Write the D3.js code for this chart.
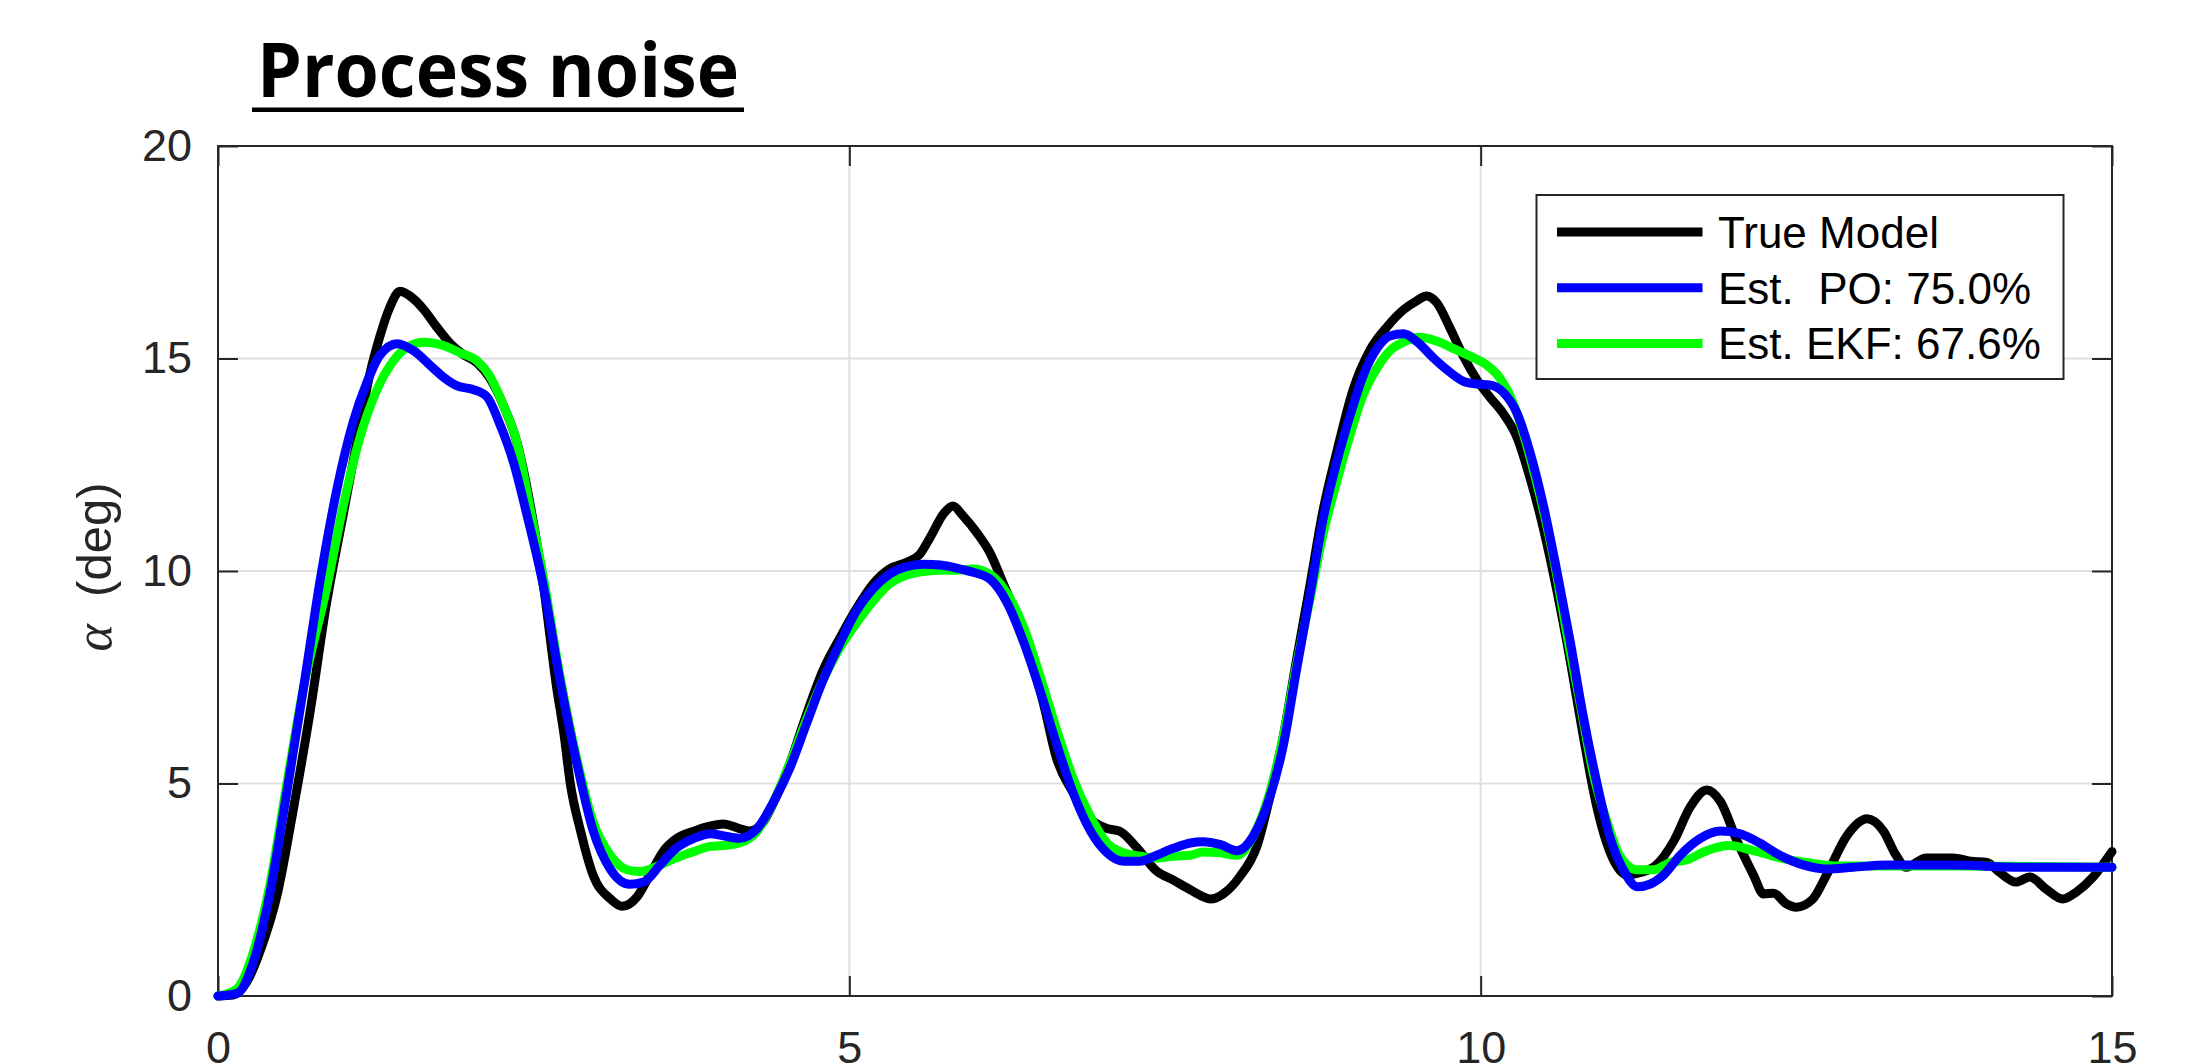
<!DOCTYPE html>
<html>
<head>
<meta charset="utf-8">
<script src="https://cdn.jsdelivr.net/npm/d3@7"></script>
<style>
    body { margin: 0; background: #fff; }
    text { white-space: pre; }
</style>
</head>
<body>
<div id="chart"></div>
<script>
// time (s) / alpha (deg)
var trueT = [0, 0.12, 0.23, 0.33, 0.47, 0.6, 0.73, 0.86, 0.99, 1.12, 1.2, 1.28, 1.36, 1.44, 1.55, 1.63, 1.73, 1.84, 1.94, 2.05,
    2.15, 2.26, 2.37, 2.47, 2.58, 2.68, 2.74, 2.79, 2.87, 2.97, 3.11, 3.2, 3.32, 3.42, 3.53, 3.63, 3.77, 3.9, 4.0, 4.13,
    4.21, 4.32, 4.42, 4.53, 4.66, 4.79, 4.93, 5.06, 5.19, 5.32, 5.45, 5.56, 5.64, 5.75, 5.82, 5.9, 6.01, 6.11, 6.22, 6.33,
    6.43, 6.54, 6.64, 6.77, 6.91, 7.04, 7.14, 7.28, 7.43, 7.57, 7.7, 7.8, 7.86, 7.96, 8.09, 8.23, 8.33, 8.44, 8.54, 8.65,
    8.75, 8.86, 8.99, 9.12, 9.26, 9.39, 9.49, 9.57, 9.65, 9.76, 9.86, 9.97, 10.07, 10.18, 10.29, 10.39, 10.5, 10.6, 10.71, 10.81,
    10.92, 11.02, 11.16, 11.26, 11.39, 11.53, 11.66, 11.79, 11.9, 12.03, 12.16, 12.24, 12.32, 12.42, 12.5, 12.63, 12.74, 12.9, 13.06, 13.19,
    13.29, 13.37, 13.53, 13.74, 13.88, 14.01, 14.11, 14.24, 14.35, 14.48, 14.61, 14.72, 14.85, 15.0];
var trueV = [0, 0.02, 0.34, 1.03, 2.4, 4.45, 6.7, 9.25, 11.3, 13.36, 14.6, 15.5, 16.2, 16.58, 16.4, 16.15, 15.75, 15.35, 15.1, 14.9,
    14.55, 13.9, 13.0, 11.6, 9.6, 7.3, 6.16, 5.0, 3.9, 2.85, 2.28, 2.11, 2.34, 2.85, 3.42, 3.7, 3.88, 4.0, 4.05, 3.94,
    3.88, 4.1, 4.68, 5.48, 6.62, 7.65, 8.45, 9.13, 9.7, 10.05, 10.2, 10.4, 10.79, 11.36, 11.53, 11.3, 10.9, 10.45, 9.7, 8.9,
    8.0, 6.85, 5.6, 4.8, 4.17, 3.94, 3.88, 3.48, 2.95, 2.72, 2.5, 2.34, 2.28, 2.4, 2.8, 3.54, 4.68, 6.16, 7.88, 9.7,
    11.4, 12.8, 14.27, 15.18, 15.75, 16.15, 16.35, 16.47, 16.32, 15.7, 15.07, 14.5, 14.1, 13.7, 13.13, 12.2, 10.96, 9.59, 7.88, 6.16,
    4.45, 3.42, 2.85, 2.9, 3.08, 3.65, 4.45, 4.85, 4.57, 3.65, 2.85, 2.4, 2.42, 2.17, 2.09, 2.28, 2.85, 3.77, 4.17, 3.88,
    3.31, 3.03, 3.25, 3.25, 3.17, 3.14, 2.91, 2.68, 2.8, 2.51, 2.28, 2.45, 2.8, 3.4];

var poT = [0, 0.15, 0.28, 0.41, 0.54, 0.68, 0.81, 0.94, 1.07, 1.18, 1.28, 1.42, 1.55, 1.68, 1.79, 1.89, 2.02, 2.13, 2.23, 2.34,
    2.44, 2.58, 2.71, 2.84, 2.97, 3.11, 3.26, 3.37, 3.5, 3.63, 3.77, 3.9, 4.0, 4.13, 4.27, 4.4, 4.53, 4.66, 4.79, 4.93,
    5.06, 5.19, 5.32, 5.45, 5.59, 5.72, 5.85, 5.98, 6.11, 6.25, 6.38, 6.51, 6.64, 6.77, 6.91, 7.04, 7.17, 7.3, 7.43, 7.57,
    7.7, 7.8, 7.94, 8.07, 8.2, 8.33, 8.44, 8.54, 8.65, 8.75, 8.86, 8.97, 9.07, 9.18, 9.28, 9.39, 9.49, 9.63, 9.76, 9.86,
    9.97, 10.07, 10.18, 10.29, 10.39, 10.5, 10.6, 10.71, 10.81, 10.92, 11.02, 11.13, 11.24, 11.34, 11.45, 11.58, 11.74, 11.9, 12.05, 12.21,
    12.37, 12.56, 12.74, 12.95, 13.22, 13.74, 14.27, 15.0];
var poV = [0, 0.06, 0.8, 2.4, 4.7, 7.3, 9.8, 11.9, 13.5, 14.44, 15.07, 15.35, 15.18, 14.84, 14.55, 14.36, 14.27, 14.1, 13.47, 12.56,
    11.4, 9.6, 7.4, 5.5, 3.9, 2.97, 2.63, 2.68, 3.08, 3.48, 3.71, 3.82, 3.77, 3.71, 3.94, 4.57, 5.37, 6.4, 7.42, 8.33,
    9.08, 9.59, 9.93, 10.1, 10.16, 10.14, 10.07, 9.97, 9.82, 9.25, 8.33, 7.19, 5.94, 4.8, 3.88, 3.37, 3.17, 3.17, 3.31, 3.48,
    3.6, 3.63, 3.56, 3.42, 3.77, 4.68, 5.94, 7.65, 9.47, 11.19, 12.56, 13.7, 14.6, 15.24, 15.53, 15.58, 15.41, 15.0, 14.67, 14.47,
    14.4, 14.38, 14.2, 13.7, 12.8, 11.5, 10.05, 8.33, 6.62, 5.02, 3.77, 2.97, 2.57, 2.63, 2.85, 3.31, 3.71, 3.88, 3.82, 3.6,
    3.31, 3.08, 2.99, 3.03, 3.08, 3.08, 3.03, 3.03];

var ekfT = [0, 0.15, 0.28, 0.41, 0.54, 0.68, 0.86, 0.99, 1.12, 1.26, 1.39, 1.52, 1.63, 1.79, 1.92, 2.05, 2.15, 2.26, 2.37, 2.47,
    2.58, 2.71, 2.84, 2.97, 3.11, 3.24, 3.34, 3.5, 3.63, 3.77, 3.9, 4.0, 4.13, 4.27, 4.4, 4.53, 4.66, 4.79, 4.93, 5.06,
    5.19, 5.32, 5.45, 5.59, 5.72, 5.85, 5.98, 6.11, 6.25, 6.38, 6.51, 6.64, 6.77, 6.91, 7.04, 7.17, 7.3, 7.43, 7.57, 7.7,
    7.8, 7.94, 8.07, 8.2, 8.33, 8.44, 8.54, 8.65, 8.75, 8.86, 8.97, 9.07, 9.18, 9.28, 9.39, 9.52, 9.65, 9.78, 9.92, 10.05,
    10.15, 10.26, 10.36, 10.47, 10.58, 10.68, 10.79, 10.89, 11.0, 11.1, 11.24, 11.37, 11.5, 11.63, 11.79, 11.97, 12.16, 12.37, 12.58, 12.82,
    13.08, 13.74, 15.0];
var ekfV = [0, 0.17, 1.03, 2.6, 4.9, 7.3, 9.6, 11.5, 13.1, 14.27, 14.95, 15.3, 15.38, 15.3, 15.13, 14.95, 14.6, 13.9, 13.0, 11.5,
    9.8, 7.5, 5.6, 4.1, 3.3, 2.97, 2.93, 3.08, 3.25, 3.4, 3.52, 3.54, 3.6, 3.88, 4.57, 5.48, 6.5, 7.42, 8.22, 8.79,
    9.3, 9.7, 9.9, 9.99, 10.02, 10.02, 10.05, 9.93, 9.47, 8.68, 7.53, 6.28, 5.14, 4.22, 3.6, 3.37, 3.29, 3.25, 3.29, 3.31,
    3.39, 3.37, 3.31, 3.77, 4.79, 6.16, 7.76, 9.36, 10.84, 12.1, 13.24, 14.15, 14.78, 15.18, 15.39, 15.5, 15.41, 15.24, 15.05, 14.84,
    14.55, 13.93, 13.0, 11.76, 10.27, 8.56, 6.85, 5.25, 4.11, 3.31, 2.97, 2.97, 3.14, 3.2, 3.42, 3.54, 3.42, 3.25, 3.14, 3.06,
    3.06, 3.06, 3.03];

var xTicks = [0, 5, 10, 15];
var yTicks = [0, 5, 10, 15, 20];
var legendLabels = ['True Model', 'Est.  PO: 75.0%', 'Est. EKF: 67.6%'];
var legendColors = ['#000000', '#0000ff', '#00ff00'];

var sWidth = 2203;
var sHeight = 1064;

var marg = {
    top: 146,
    bottom: 68,
    left: 218,
    right: 91,
}

var width = sWidth - marg.left - marg.right;
var height = sHeight - marg.top - marg.bottom;
var axisColor = '#262626';
var tickLen = 20;
var lineW = 9;

var svg = d3
    .select('#chart')
    .append('svg')
    .attr('width', sWidth)
    .attr('height', sHeight)
    .style('display', 'block');

svg.append('rect')
    .attr('width', sWidth)
    .attr('height', sHeight)
    .attr('fill', '#fff');

var chartsGroup = svg.append('g')
    .attr('transform', `translate(${marg.left}, ${marg.top})`);

var xLinearScale = d3.scaleLinear().domain([0, 15]).range([0, width]);
var yLinearScale = d3.scaleLinear().domain([0, 20]).range([height, 0]);

// grid
chartsGroup.append('g')
    .selectAll('line')
    .data(xTicks.slice(1, -1))
    .enter()
    .append('line')
    .attr('x1', d => xLinearScale(d))
    .attr('x2', d => xLinearScale(d))
    .attr('y1', 0)
    .attr('y2', height)
    .attr('stroke', '#dfdfdf')
    .attr('stroke-width', 2);

chartsGroup.append('g')
    .selectAll('line')
    .data(yTicks.slice(1, -1))
    .enter()
    .append('line')
    .attr('x1', 0)
    .attr('x2', width)
    .attr('y1', d => yLinearScale(d))
    .attr('y2', d => yLinearScale(d))
    .attr('stroke', '#dfdfdf')
    .attr('stroke-width', 2);

// axes on all four sides, ticks pointing inward
function styleAxis(g) {
    g.select('.domain').remove();
    g.selectAll('.tick line').attr('stroke', axisColor).attr('stroke-width', 2);
    g.selectAll('.tick text')
        .attr('fill', axisColor)
        .style('font-family', '"Liberation Sans", Arial, sans-serif')
        .style('font-size', '45px');
}

var bottomAxis = d3.axisBottom(xLinearScale).tickValues(xTicks).tickSizeInner(-tickLen).tickSizeOuter(0);
var xAxis = chartsGroup.append('g')
    .attr('transform', `translate(0, ${height})`)
    .call(bottomAxis)
    .call(styleAxis);
xAxis.selectAll('.tick text').attr('dy', null).attr('y', 67);

chartsGroup.append('g')
    .call(d3.axisTop(xLinearScale).tickValues(xTicks).tickSizeInner(-tickLen).tickSizeOuter(0).tickFormat(''))
    .call(styleAxis);

var leftAxis = d3.axisLeft(yLinearScale).tickValues(yTicks).tickSizeInner(-tickLen).tickSizeOuter(0).tickPadding(26);
chartsGroup.append('g')
    .call(leftAxis)
    .call(styleAxis);

chartsGroup.append('g')
    .attr('transform', `translate(${width}, 0)`)
    .call(d3.axisRight(yLinearScale).tickValues(yTicks).tickSizeInner(-tickLen).tickSizeOuter(0).tickFormat(''))
    .call(styleAxis);

chartsGroup.append('rect')
    .attr('width', width)
    .attr('height', height)
    .attr('fill', 'none')
    .attr('stroke', axisColor)
    .attr('stroke-width', 2);

// curves
var line = d3.line()
    .x(d => xLinearScale(d[0]))
    .y(d => yLinearScale(d[1]))
    .curve(d3.curveMonotoneX);

var series = [
    { t: trueT, v: trueV, color: legendColors[0] },
    { t: ekfT, v: ekfV, color: legendColors[2] },
    { t: poT, v: poV, color: legendColors[1] },
];

series.forEach(function(s) {
    chartsGroup.append('path')
        .datum(s.t.map((t, i) => [t, s.v[i]]))
        .attr('d', line)
        .attr('fill', 'none')
        .attr('stroke', s.color)
        .attr('stroke-width', lineW)
        .attr('stroke-linejoin', 'round')
        .attr('stroke-linecap', 'round');
});

// y label
var yLabel = svg.append('text')
    .attr('transform', `translate(111, 567) rotate(-90)`)
    .attr('text-anchor', 'middle')
    .attr('fill', axisColor)
    .style('font-family', '"Liberation Sans", Arial, sans-serif')
    .style('font-size', '49px');
yLabel.append('tspan')
    .style('font-family', '"Liberation Serif", "DejaVu Serif", serif')
    .style('font-style', 'italic')
    .style('font-size', '52px')
    .text('\u03b1');
yLabel.append('tspan').text('  (deg)');

// title
svg.append('text')
    .attr('x', 257)
    .attr('y', 97)
    .attr('textLength', 482)
    .attr('lengthAdjust', 'spacingAndGlyphs')
    .style('font-family', '"Open Sans", sans-serif')
    .style('font-weight', '700')
    .style('font-size', '76px')
    .attr('fill', '#000')
    .text('Process noise');

svg.append('rect')
    .attr('x', 252)
    .attr('y', 107.5)
    .attr('width', 492)
    .attr('height', 4.5)
    .attr('fill', '#000');

// legend
var legend = svg.append('g')
    .attr('transform', 'translate(1536.5, 195)');

legend.append('rect')
    .attr('width', 527)
    .attr('height', 184)
    .attr('fill', '#fff')
    .attr('stroke', axisColor)
    .attr('stroke-width', 2);

var items = legend.selectAll('g.item')
    .data(legendLabels)
    .enter()
    .append('g')
    .attr('transform', (d, i) => `translate(0, ${37 + i * 55.7})`);

items.append('line')
    .attr('x1', 20.5)
    .attr('x2', 166)
    .attr('stroke', (d, i) => legendColors[i])
    .attr('stroke-width', lineW);

items.append('text')
    .attr('x', 181.5)
    .attr('y', 16)
    .attr('fill', '#000')
    .style('font-family', '"Liberation Sans", Arial, sans-serif')
    .style('font-size', '44px')
    .text(d => d);
</script>
</body>
</html>
